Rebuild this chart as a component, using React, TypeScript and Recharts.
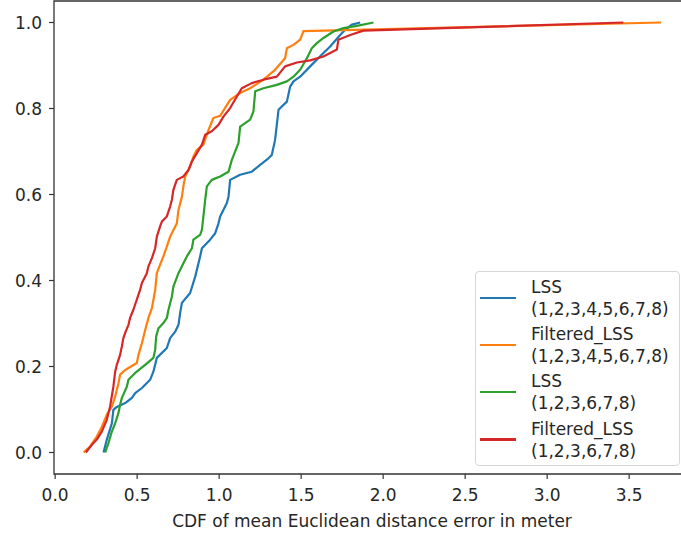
import { LineChart, Line, XAxis, YAxis, ReferenceArea } from 'recharts'

// CDF curves: [error in m, cumulative fraction]
const lssAll: [number, number][] = [
  [0.295, 0], [0.315, 0.03], [0.346, 0.068], [0.355, 0.099], [0.376, 0.106], [0.427, 0.115],
  [0.468, 0.127], [0.488, 0.138], [0.529, 0.15], [0.579, 0.169], [0.599, 0.188], [0.62, 0.22],
  [0.681, 0.243], [0.701, 0.266], [0.732, 0.281], [0.752, 0.297], [0.762, 0.324], [0.773, 0.348],
  [0.823, 0.371], [0.854, 0.409], [0.884, 0.456], [0.895, 0.475], [0.945, 0.495], [0.976, 0.51],
  [0.996, 0.533], [1.006, 0.549], [1.047, 0.58], [1.057, 0.595], [1.067, 0.634], [1.128, 0.646],
  [1.199, 0.653], [1.25, 0.669], [1.291, 0.681], [1.321, 0.692], [1.341, 0.727], [1.362, 0.797],
  [1.413, 0.816], [1.433, 0.851], [1.453, 0.863], [1.494, 0.874], [1.555, 0.898], [1.636, 0.929],
  [1.677, 0.944], [1.738, 0.971], [1.768, 0.983], [1.809, 0.995], [1.86, 1.0],
]

const filteredAll: [number, number][] = [
  [0.173, 0], [0.213, 0.014], [0.254, 0.037], [0.285, 0.06], [0.315, 0.088], [0.346, 0.107],
  [0.366, 0.13], [0.386, 0.161], [0.396, 0.181], [0.427, 0.192], [0.498, 0.208], [0.508, 0.227],
  [0.529, 0.254], [0.549, 0.285], [0.569, 0.313], [0.59, 0.336], [0.61, 0.378], [0.62, 0.417],
  [0.64, 0.437], [0.66, 0.456], [0.681, 0.479], [0.701, 0.502], [0.742, 0.533], [0.752, 0.564],
  [0.773, 0.595], [0.782, 0.619], [0.793, 0.642], [0.823, 0.665], [0.843, 0.688], [0.864, 0.704],
  [0.904, 0.716], [0.935, 0.75], [0.965, 0.778], [1.006, 0.783], [1.067, 0.82], [1.128, 0.836],
  [1.189, 0.847], [1.27, 0.867], [1.341, 0.89], [1.402, 0.917], [1.413, 0.94], [1.453, 0.948],
  [1.494, 0.96], [1.514, 0.98], [3.695, 1.0],
]

const lssSub: [number, number][] = [
  [0.305, 0], [0.325, 0.022], [0.346, 0.049], [0.366, 0.068], [0.386, 0.092], [0.396, 0.111],
  [0.407, 0.127], [0.437, 0.153], [0.447, 0.169], [0.488, 0.185], [0.549, 0.204], [0.599, 0.22],
  [0.61, 0.239], [0.616, 0.27], [0.63, 0.289], [0.66, 0.301], [0.681, 0.313], [0.691, 0.332],
  [0.712, 0.363], [0.721, 0.386], [0.752, 0.417], [0.782, 0.44], [0.803, 0.456], [0.834, 0.475],
  [0.843, 0.495], [0.884, 0.506], [0.895, 0.518], [0.904, 0.549], [0.915, 0.588], [0.925, 0.619],
  [0.955, 0.634], [1.006, 0.642], [1.057, 0.653], [1.077, 0.68], [1.118, 0.72], [1.128, 0.758],
  [1.189, 0.774], [1.209, 0.793], [1.22, 0.84], [1.27, 0.847], [1.352, 0.855], [1.413, 0.863],
  [1.453, 0.874], [1.494, 0.89], [1.535, 0.917], [1.565, 0.94], [1.596, 0.952], [1.636, 0.964],
  [1.697, 0.979], [1.758, 0.987], [1.84, 0.992], [1.941, 1.0],
]

const filteredSub: [number, number][] = [
  [0.187, 0], [0.224, 0.018], [0.254, 0.03], [0.285, 0.049], [0.315, 0.076], [0.335, 0.107],
  [0.355, 0.153], [0.366, 0.188], [0.376, 0.204], [0.396, 0.227], [0.407, 0.247], [0.416, 0.266],
  [0.427, 0.278], [0.447, 0.297], [0.457, 0.313], [0.477, 0.332], [0.518, 0.378], [0.529, 0.394],
  [0.559, 0.417], [0.569, 0.433], [0.59, 0.452], [0.61, 0.475], [0.62, 0.502], [0.64, 0.526],
  [0.651, 0.537], [0.681, 0.549], [0.701, 0.572], [0.712, 0.588], [0.721, 0.611], [0.742, 0.634],
  [0.782, 0.642], [0.813, 0.657], [0.834, 0.677], [0.864, 0.696], [0.895, 0.716], [0.915, 0.739],
  [0.955, 0.747], [0.996, 0.762], [1.026, 0.781], [1.067, 0.801], [1.108, 0.828], [1.138, 0.847],
  [1.199, 0.859], [1.27, 0.867], [1.352, 0.874], [1.402, 0.898], [1.474, 0.907], [1.555, 0.912],
  [1.636, 0.921], [1.718, 0.937], [1.727, 0.96], [1.799, 0.971], [1.88, 0.981], [3.465, 1.0],
]

const seriesNames = [
  ['LSS', '(1,2,3,4,5,6,7,8)'],
  ['Filtered_LSS', '(1,2,3,4,5,6,7,8)'],
  ['LSS', '(1,2,3,6,7,8)'],
  ['Filtered_LSS', '(1,2,3,6,7,8)'],
]
const seriesColors = ['#1f77b4', '#ff7f0e', '#2ca02c', '#d62728']
const seriesData = [lssAll, filteredAll, lssSub, filteredSub]

const xTicks = [0, 0.5, 1, 1.5, 2, 2.5, 3, 3.5]
const yTicks = [0, 0.2, 0.4, 0.6, 0.8, 1.0]
const xDomain = [-0.007, 3.871]
const yDomain = [-0.05, 1.05]

const FONT = 'DejaVu Sans, sans-serif'
const tickStyle = { fill: '#262626', fontSize: 17, fontFamily: FONT }

function LegendBox() {
  return (
    <div
      style={{
        position: 'absolute',
        left: 475,
        top: 271,
        width: 199,
        padding: '2px 0 2px 4px',
        border: '1px solid #d6d6d6',
        borderRadius: 4,
        background: 'rgba(255,255,255,0.85)',
        fontFamily: FONT,
        fontSize: 17,
        color: '#262626',
      }}
    >
      {seriesNames.map((name, i) => (
        <div key={i} style={{ display: 'flex', alignItems: 'center', height: 47.3 }}>
          <div style={{ width: 36, height: 2.2, background: seriesColors[i], marginRight: 15 }} />
          <div style={{ lineHeight: '22px', whiteSpace: 'nowrap' }}>
            <div>{name[0]}</div>
            <div>{name[1]}</div>
          </div>
        </div>
      ))}
    </div>
  )
}

export default function App() {
  return (
    <div style={{ position: 'fixed', left: 0, top: 0, width: 681, height: 536, overflow: 'hidden', background: '#fff' }}>
      <LineChart width={700} height={536} margin={{ top: 1, right: 10, left: 0, bottom: 0 }}>
        <XAxis
          type="number"
          dataKey="x"
          domain={xDomain}
          ticks={xTicks}
          allowDataOverflow
          tickFormatter={(v: number) => v.toFixed(1)}
          tick={tickStyle}
          tickSize={5}
          tickMargin={10}
          tickLine={{ stroke: '#333', strokeWidth: 1.2 }}
          axisLine={false}
          height={62}
          label={{ value: 'CDF of mean Euclidean distance error in meter', position: 'insideBottom', offset: 9, fill: '#262626', fontSize: 17, fontFamily: FONT }}
        />
        <YAxis
          type="number"
          domain={yDomain}
          ticks={yTicks}
          allowDataOverflow
          tickFormatter={(v: number) => v.toFixed(1)}
          tick={tickStyle}
          tickSize={5}
          tickMargin={7}
          tickLine={{ stroke: '#333', strokeWidth: 1.2 }}
          axisLine={false}
          width={54}
        />
        <ReferenceArea
          x1={xDomain[0]}
          x2={xDomain[1]}
          y1={yDomain[0]}
          y2={yDomain[1]}
          fill="none"
          stroke="#333"
          strokeWidth={1.3}
          ifOverflow="visible"
        />
        {seriesData.map((pts, i) => (
          <Line
            key={i}
            data={pts.map(([x, y]) => ({ x, y }))}
            dataKey="y"
            type="linear"
            stroke={seriesColors[i]}
            strokeWidth={2.2}
            strokeLinejoin="round"
            dot={false}
            activeDot={false}
            isAnimationActive={false}
          />
        ))}
      </LineChart>
      <LegendBox />
    </div>
  )
}
